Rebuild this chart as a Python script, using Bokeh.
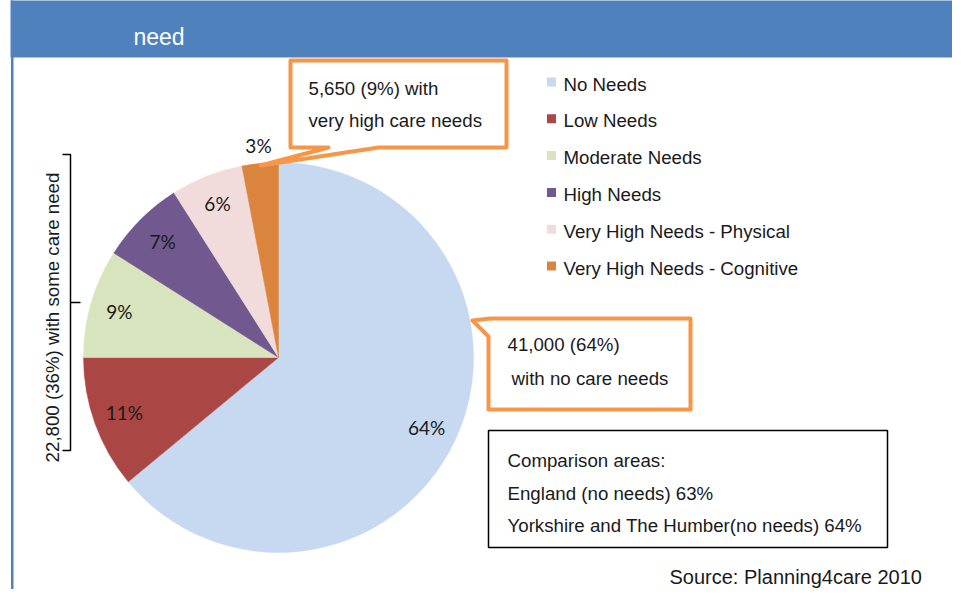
import math
from bokeh.plotting import figure
from bokeh.models import Range1d
from bokeh.core.properties import value
from bokeh.embed import file_html
from bokeh.resources import INLINE

# ---------------- data ----------------
title_text = "need"
categories = ["No Needs", "Low Needs", "Moderate Needs", "High Needs",
              "Very High Needs - Physical", "Very High Needs - Cognitive"]
values = [64, 11, 9, 7, 6, 3]
colors = ["#C6D9F0", "#AA4643", "#D7E4BD", "#71588F", "#F2DCDB", "#DB843D"]
callout_top = ["5,650 (9%) with", "very high care needs"]
callout_right = ["41,000 (64%)", "with no care needs"]
brace_label = "22,800 (36%) with some care need"
comparison = ["Comparison areas:", "England (no needs) 63%",
              "Yorkshire and The Humber(no needs) 64%"]
source_text = "Source: Planning4care 2010"

# ---------------- layout helpers ----------------
W, H = 952, 589
def Y(y):  # picture row (from top) -> data y (y up)
    return H - y

FONT = value("Liberation Sans")
ORANGE = "#F79646"
BLUE = "#4F81BD"

p = figure(width=W, height=H, x_range=Range1d(0, W), y_range=Range1d(0, H),
           x_axis_type=None, y_axis_type=None, toolbar_location=None,
           output_backend="svg", min_border=0, outline_line_color=None,
           background_fill_color="white", border_fill_color="white")
p.grid.visible = False

# header bar and left rule
p.quad(left=[10], right=[W + 5], top=[Y(-5)], bottom=[Y(57)], fill_color=BLUE, line_color=None)
p.quad(left=[10.5], right=[13], top=[Y(-5)], bottom=[Y(H + 5)], fill_color=BLUE, line_color=None)
p.text(x=[133], y=[Y(36)], text=[title_text], text_color="white", text_font=FONT,
       text_font_size=value("23px"), text_align="left", text_baseline="middle")

# pie
cx, cy, R = 278, Y(357), 195
total = float(sum(values))
cum = [0.0]
for v in values:
    cum.append(cum[-1] + v / total)
starts = [math.pi / 2 - 2 * math.pi * c for c in cum[:-1]]
ends = [math.pi / 2 - 2 * math.pi * c for c in cum[1:]]
p.wedge(x=[cx] * len(values), y=[cy] * len(values), radius=R,
        start_angle=starts, end_angle=ends, direction="clock",
        fill_color=colors, line_color=colors, line_width=0.5)

# percentage labels
label_r = [0.84, 0.84, 0.85, 0.84, 0.85, 1.09]
lx, ly, lt = [], [], []
for i, v in enumerate(values):
    mid = (starts[i] + ends[i]) / 2
    lx.append(cx + label_r[i] * R * math.cos(mid))
    ly.append(cy + label_r[i] * R * math.sin(mid))
    lt.append(f"{v}%")
p.text(x=lx, y=ly, text=lt, text_font=value("Lato"), text_font_size=value("19px"),
       text_color="#1a1a1a", text_align="center", text_baseline="middle")

# legend
for i, (c, col) in enumerate(zip(categories, colors)):
    ty = Y(83.5 + i * 36.8)
    p.rect(x=[551], y=[ty + 2], width=9, height=9, fill_color=col, line_color=None)
    p.text(x=[563], y=[ty], text=[c], text_font=FONT, text_font_size=value("18.7px"),
           text_color="#1a1a1a", text_align="left", text_baseline="middle")

# callout top (very high needs)
c1x = [290, 506, 506, 378, 260, 328, 290]
c1y = [Y(60), Y(60), Y(147), Y(147), Y(165), Y(147), Y(147)]
p.patch(c1x, c1y, fill_color="white", line_color=ORANGE, line_width=4, line_join="round")
for j, t in enumerate(callout_top):
    p.text(x=[308], y=[Y(88 + j * 32)], text=[t], text_font=FONT,
           text_font_size=value("18.7px"), text_color="#1a1a1a",
           text_align="left", text_baseline="middle")

# callout right (no needs)
c2x = [472, 490, 690, 690, 488, 488, 472]
c2y = [Y(320), Y(318), Y(318), Y(409), Y(409), Y(336), Y(320)]
p.patch(c2x, c2y, fill_color="white", line_color=ORANGE, line_width=4, line_join="round")
p.text(x=[507], y=[Y(344)], text=[callout_right[0]], text_font=FONT,
       text_font_size=value("18.7px"), text_color="#1a1a1a", text_align="left", text_baseline="middle")
p.text(x=[511], y=[Y(378)], text=[callout_right[1]], text_font=FONT,
       text_font_size=value("18.7px"), text_color="#1a1a1a", text_align="left", text_baseline="middle")

# brace + rotated label
p.line([62, 70, 70, 62], [Y(154), Y(154), Y(450), Y(450)], line_color="black", line_width=1.5)
p.line([70, 80], [Y(302), Y(302)], line_color="black", line_width=1.5)
p.text(x=[52], y=[Y(317)], text=[brace_label], angle=math.pi / 2, text_font=FONT,
       text_font_size=value("18.7px"), text_color="#1a1a1a", text_align="center", text_baseline="middle")

# comparison box
p.quad(left=[488], right=[887], top=[Y(430)], bottom=[Y(547)], fill_color="white",
       line_color="black", line_width=1.5)
for j, t in enumerate(comparison):
    p.text(x=[507], y=[Y(460 + j * 32.5)], text=[t], text_font=FONT,
           text_font_size=value("18.7px"), text_color="#1a1a1a", text_align="left", text_baseline="middle")

# source
p.text(x=[669], y=[Y(576)], text=[source_text], text_font=FONT, text_font_size=value("20px"),
       text_color="#1a1a1a", text_align="left", text_baseline="middle")

open("out.html", "w").write(file_html(p, INLINE))
